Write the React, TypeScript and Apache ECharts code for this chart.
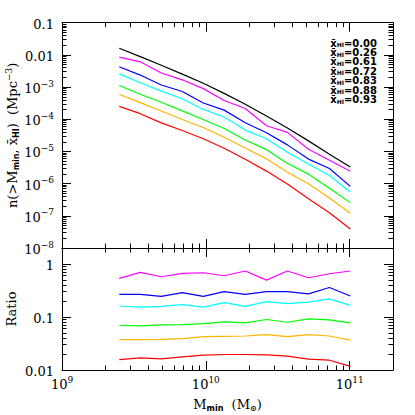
import React, { useEffect, useRef } from 'react';
import * as echarts from 'echarts';

// Minimum halo mass M_min (M_sun)
const massValues = [2.5e9, 3.5e9, 4.9e9, 6.86e9, 9.6e9, 1.34e10, 1.88e10, 2.64e10, 3.69e10, 5.17e10, 7.23e10, 1.01e11];

// Legend labels (mean neutral fraction)
const xhiLabels = ['0.00', '0.26', '0.61', '0.72', '0.83', '0.88', '0.93'];
const lineColors = ['#000000', '#ff00ff', '#0000ff', '#00ffff', '#00ff00', '#ffb400', '#ff0000'];

// Cumulative number density n(>M_min) (Mpc^-3)
const n000 = [1.60e-2, 8.8e-3, 4.75e-3, 2.53e-3, 1.31e-3, 6.37e-4, 2.92e-4, 1.27e-4, 5.32e-5, 2.13e-5, 8.17e-6, 3.31e-6];
const n026 = [8.56e-3, 6.10e-3, 2.73e-3, 1.68e-3, 8.95e-4, 3.82e-4, 2.15e-4, 6.30e-5, 3.92e-5, 1.17e-5, 5.34e-6, 2.44e-6];
const n061 = [4.29e-3, 2.36e-3, 1.16e-3, 7.29e-4, 3.21e-4, 1.92e-4, 7.83e-5, 3.82e-5, 1.60e-5, 5.79e-6, 2.94e-6, 8.24e-7];
const n072 = [2.58e-3, 1.36e-3, 7.51e-4, 4.33e-4, 2.02e-4, 1.18e-4, 4.61e-5, 2.48e-5, 9.47e-6, 4.07e-6, 1.79e-6, 5.49e-7];
const n083 = [1.12e-3, 5.98e-4, 3.37e-4, 1.82e-4, 9.85e-5, 5.15e-5, 2.26e-5, 1.14e-5, 4.23e-6, 1.97e-6, 7.21e-7, 2.57e-7];
const n088 = [5.97e-4, 3.28e-4, 1.80e-4, 9.84e-5, 5.57e-5, 2.75e-5, 1.28e-5, 5.89e-6, 2.26e-6, 9.88e-7, 3.58e-7, 1.21e-7];
const n093 = [2.51e-4, 1.49e-4, 7.70e-5, 4.48e-5, 2.49e-5, 1.25e-5, 5.72e-6, 2.45e-6, 9.68e-7, 3.41e-7, 1.25e-7, 3.87e-8];

// Ratio n(x_HI) / n(0)
const r026 = [0.535, 0.693, 0.574, 0.664, 0.683, 0.600, 0.736, 0.496, 0.736, 0.549, 0.654, 0.736];
const r061 = [0.268, 0.268, 0.245, 0.288, 0.245, 0.301, 0.268, 0.301, 0.301, 0.272, 0.360, 0.249];
const r072 = [0.161, 0.154, 0.158, 0.171, 0.154, 0.186, 0.158, 0.195, 0.178, 0.191, 0.219, 0.166];
const r083 = [0.0698, 0.0679, 0.0710, 0.0719, 0.0752, 0.0809, 0.0775, 0.0896, 0.0796, 0.0923, 0.0883, 0.0775];
const r088 = [0.0373, 0.0373, 0.0378, 0.0389, 0.0425, 0.0431, 0.0438, 0.0464, 0.0425, 0.0464, 0.0438, 0.0367];
const r093 = [0.0157, 0.0169, 0.0162, 0.0177, 0.0190, 0.0196, 0.0196, 0.0193, 0.0182, 0.0160, 0.0153, 0.0117];

const densitySeries = [n000, n026, n061, n072, n083, n088, n093];
const ratioSeries = [r026, r061, r072, r083, r088, r093];

// Axis ranges and tick labels
const xMin = 1e9, xMax = 2e11;
const xMajorTicks = [1e9, 1e10, 1e11];
const xTickLabels = ['{b|10}{s|9}', '{b|10}{s|10}', '{b|10}{s|11}'];
const topMin = 1e-8, topMax = 0.1;
const topMajorTicks = [1e-8, 1e-7, 1e-6, 1e-5, 1e-4, 1e-3, 1e-2, 1e-1];
const topTickLabels = ['{b|10}{s|\u22128}', '{b|10}{s|\u22127}', '{b|10}{s|\u22126}', '{b|10}{s|\u22125}', '{b|10}{s|\u22124}', '{b|10}{s|\u22123}', '{b|0.01}', '{b|0.1}'];
const botMin = 0.01, botMax = 2;
const botMajorTicks = [0.01, 0.1, 1];
const botTickLabels = ['{b|0.01}', '{b|0.1}', '{b|1}'];

const minorsOf = (majors: number[], max: number) => {
  const out: number[] = [];
  majors.forEach((m) => {
    for (let k = 2; k <= 9; k++) {
      const v = m * k;
      if (v <= max * 1.0001) out.push(v);
    }
  });
  return out;
};

const SERIF = 'DejaVu Serif';
const SANS = 'DejaVu Sans';

const labelRich = {
  b: { fontFamily: SERIF, fontSize: 13, lineHeight: 16, color: '#000', verticalAlign: 'bottom' as const },
  s: { fontFamily: SERIF, fontSize: 9, lineHeight: 10, color: '#000', verticalAlign: 'top' as const },
};

const lookup = (ticks: number[], texts: string[]) => (v: number) => {
  let best = 0;
  let bestD = Infinity;
  ticks.forEach((t, i) => {
    const d = Math.abs(Math.log10(v) - Math.log10(t));
    if (d < bestD) { bestD = d; best = i; }
  });
  return texts[best];
};

const nameRich = {
  m: { fontFamily: SERIF, fontSize: 13, lineHeight: 16, color: '#000', verticalAlign: 'middle' as const },
  s: { fontFamily: SANS, fontSize: 8, fontWeight: 'bold' as const, lineHeight: 8, color: '#000', verticalAlign: 'bottom' as const },
  p: { fontFamily: SERIF, fontSize: 9, lineHeight: 9, color: '#000', verticalAlign: 'top' as const },
};

function makeAxis(opts: {
  grid: number; position: string; min: number; max: number; ticks: number[]; len: number;
  line: boolean; labels?: (v: number) => string; labelMargin?: number;
}) {
  return {
    type: 'log',
    logBase: 10,
    gridIndex: opts.grid,
    position: opts.position,
    min: opts.min,
    max: opts.max,
    axisLine: { show: opts.line, onZero: false, lineStyle: { color: '#000', width: 1 } },
    axisTick: { show: true, inside: true, length: opts.len, customValues: opts.ticks, lineStyle: { color: '#000', width: 1 } },
    axisLabel: opts.labels
      ? { show: true, customValues: opts.ticks, formatter: opts.labels, margin: opts.labelMargin ?? 8, rich: labelRich, color: '#000' }
      : { show: false },
    splitLine: { show: false },
    minorTick: { show: false },
    minorSplitLine: { show: false },
  };
}

export default function App() {
  const ref = useRef<HTMLDivElement>(null);
  useEffect(() => {
    const chart = echarts.init(ref.current!, null, { renderer: 'svg' });
    const xMinor = minorsOf(xMajorTicks, xMax);
    const topMinor = minorsOf(topMajorTicks.slice(0, -1), topMax);
    const botMinor = minorsOf(botMajorTicks, botMax);

    const xAxes: any[] = [];
    const yAxes: any[] = [];
    [0, 1].forEach((g) => {
      xAxes.push(makeAxis({ grid: g, position: 'bottom', min: xMin, max: xMax, ticks: xMajorTicks, len: 9, line: true,
        labels: g === 1 ? lookup(xMajorTicks, xTickLabels) : undefined, labelMargin: 5 }));
      xAxes.push(makeAxis({ grid: g, position: 'bottom', min: xMin, max: xMax, ticks: xMinor, len: 4.5, line: false }));
      xAxes.push(makeAxis({ grid: g, position: 'top', min: xMin, max: xMax, ticks: xMajorTicks, len: 9, line: true }));
      xAxes.push(makeAxis({ grid: g, position: 'top', min: xMin, max: xMax, ticks: xMinor, len: 4.5, line: false }));
      const ymin = g === 0 ? topMin : botMin;
      const ymax = g === 0 ? topMax : botMax;
      const ymaj = g === 0 ? topMajorTicks : botMajorTicks;
      const ymin2 = g === 0 ? topMinor : botMinor;
      const ylab = g === 0 ? lookup(topMajorTicks, topTickLabels) : lookup(botMajorTicks, botTickLabels);
      yAxes.push(makeAxis({ grid: g, position: 'left', min: ymin, max: ymax, ticks: ymaj, len: 9, line: true, labels: ylab, labelMargin: 8 }));
      yAxes.push(makeAxis({ grid: g, position: 'left', min: ymin, max: ymax, ticks: ymin2, len: 4.5, line: false }));
      yAxes.push(makeAxis({ grid: g, position: 'right', min: ymin, max: ymax, ticks: ymaj, len: 9, line: true }));
      yAxes.push(makeAxis({ grid: g, position: 'right', min: ymin, max: ymax, ticks: ymin2, len: 4.5, line: false }));
    });

    // axis names
    Object.assign(yAxes[0], {
      name: '{m|n(>M}{s|min}{m|, x\u0304}{s|HI}{m|)  (Mpc}{p|\u22123}{m|)}',
      nameLocation: 'middle', nameRotate: 90, nameGap: 42, nameMoveOverlap: false,
      nameTextStyle: { rich: nameRich },
    });
    Object.assign(yAxes[4], {
      name: '{m|Ratio}', nameLocation: 'middle', nameRotate: 90, nameGap: 43, nameMoveOverlap: false,
      nameTextStyle: { rich: nameRich },
    });
    Object.assign(xAxes[4], {
      name: '{m|M}{s|min}{m|  (M}{s|\u2299}{m|)}', nameLocation: 'middle', nameGap: 26, nameMoveOverlap: false,
      nameTextStyle: { rich: nameRich },
    });

    const series: any[] = [];
    densitySeries.forEach((arr, i) => {
      series.push({
        type: 'line', name: xhiLabels[i], xAxisIndex: 0, yAxisIndex: 0,
        data: arr.map((v, j) => [massValues[j], v]),
        showSymbol: false, symbol: 'none', smooth: false,
        lineStyle: { color: lineColors[i], width: 1.2 }, itemStyle: { color: lineColors[i] },
      });
    });
    ratioSeries.forEach((arr, i) => {
      series.push({
        type: 'line', name: 'ratio ' + xhiLabels[i + 1], xAxisIndex: 4, yAxisIndex: 4,
        data: arr.map((v, j) => [massValues[j], v]),
        showSymbol: false, symbol: 'none', smooth: false,
        lineStyle: { color: lineColors[i + 1], width: 1.2 }, itemStyle: { color: lineColors[i + 1] },
      });
    });

    chart.setOption({
      animation: false,
      backgroundColor: '#ffffff',
      grid: [
        { left: 62, top: 22.7, width: 331, height: 225.3, outerBoundsMode: 'none', containLabel: false },
        { left: 62, top: 248, width: 331, height: 122, outerBoundsMode: 'none', containLabel: false },
      ],
      xAxis: xAxes,
      yAxis: yAxes,
      legend: {
        data: xhiLabels,
        orient: 'vertical',
        right: 38,
        top: 38,
        icon: 'none',
        itemWidth: 0,
        itemHeight: 0,
        itemGap: -0.6,
        padding: 0,
        selectedMode: false,
        formatter: (name: string) => `{x|x\u0304}{s|HI}{t|=${name}}`,
        textStyle: {
          color: '#000',
          rich: {
            x: { fontFamily: SANS, fontSize: 10, fontWeight: 'bold', lineHeight: 9.3, color: '#000', verticalAlign: 'middle' },
            s: { fontFamily: SANS, fontSize: 6, fontWeight: 'bold', lineHeight: 5, color: '#000', verticalAlign: 'bottom' },
            t: { fontFamily: SANS, fontSize: 10, fontWeight: 'bold', lineHeight: 9.3, color: '#000', verticalAlign: 'middle' },
          },
        },
      },
      series,
    });
    return () => chart.dispose();
  }, []);
  return <div ref={ref} style={{ position: 'absolute', left: 0, top: 0, width: 415, height: 415, background: '#fff' }} />;
}
